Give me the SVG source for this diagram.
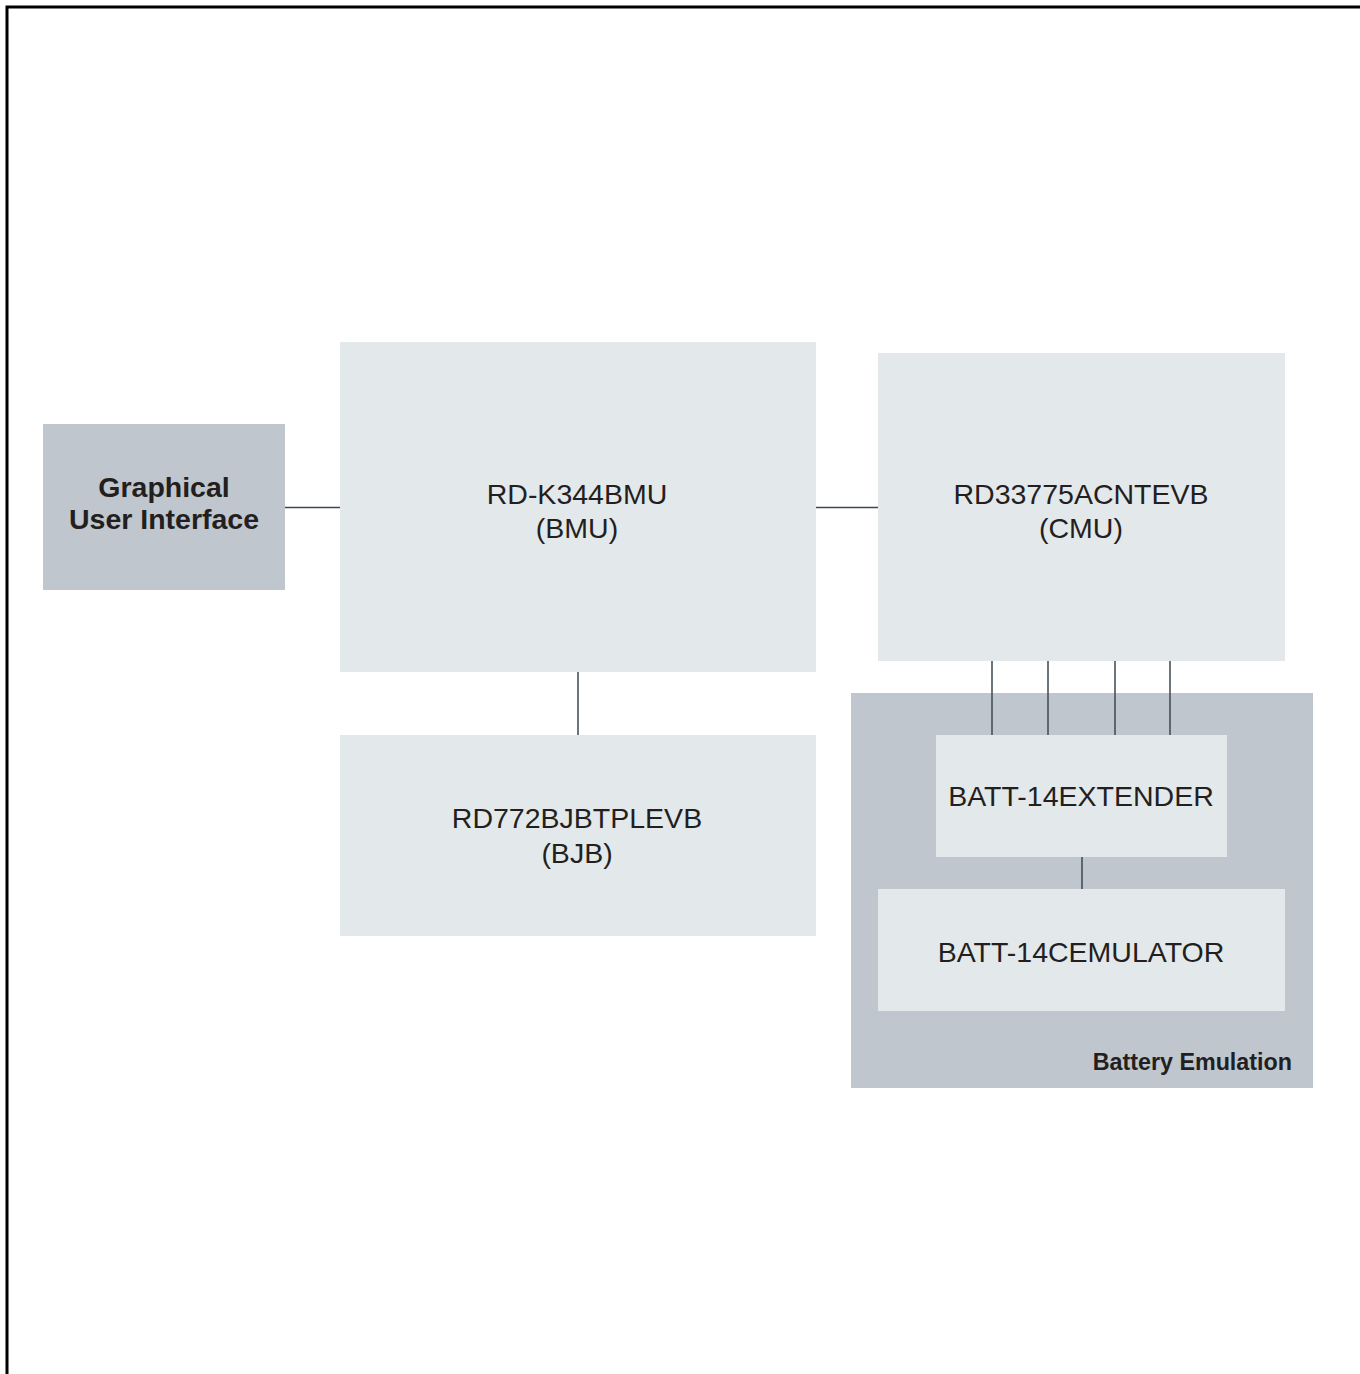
<svg xmlns="http://www.w3.org/2000/svg" width="1360" height="1374" viewBox="0 0 1360 1374">
<style>
.light{fill:#e3e8eb}
.dark{fill:#bfc6cd}
.t{font-family:"Liberation Sans",Arial,sans-serif;font-size:28.5px;fill:#231f20;text-anchor:middle}
.b{font-family:"Liberation Sans",Arial,sans-serif;font-weight:bold;font-size:28.5px;fill:#231f20;text-anchor:middle}
.c line{stroke:#3d4750;stroke-width:1.5}
</style>
<rect width="1360" height="1374" fill="#fff"/>
<polyline points="7,1374 7,7 1360,7" fill="none" stroke="#000" stroke-width="3"/>
<g id="battery-emulation">
<rect class="dark" x="851" y="693" width="462" height="395"/>
<text x="1292" y="1070" style="font-family:'Liberation Sans',Arial,sans-serif;font-weight:bold;font-size:23.3px;fill:#231f20;text-anchor:end">Battery Emulation</text>
</g>
<g class="c" id="connectors">
<line x1="285" y1="507.5" x2="340" y2="507.5"/>
<line x1="816" y1="507.5" x2="878" y2="507.5"/>
<line x1="578" y1="672" x2="578" y2="735"/>
<line x1="992" y1="661" x2="992" y2="735"/>
<line x1="1048" y1="661" x2="1048" y2="735"/>
<line x1="1115" y1="661" x2="1115" y2="735"/>
<line x1="1170" y1="661" x2="1170" y2="735"/>
<line x1="1082" y1="857" x2="1082" y2="889"/>
</g>
<g id="gui">
<rect class="dark" x="43" y="424" width="242" height="166"/>
<text class="b" x="164" y="497">Graphical</text>
<text class="b" x="164" y="529">User Interface</text>
</g>
<g id="bmu">
<rect class="light" x="340" y="342" width="476" height="330"/>
<text class="t" x="577" y="504">RD-K344BMU</text>
<text class="t" x="577" y="538">(BMU)</text>
</g>
<g id="cmu">
<rect class="light" x="878" y="353" width="407" height="308"/>
<text class="t" x="1081" y="504">RD33775ACNTEVB</text>
<text class="t" x="1081" y="538">(CMU)</text>
</g>
<g id="bjb">
<rect class="light" x="340" y="735" width="476" height="201"/>
<text class="t" x="577" y="828">RD772BJBTPLEVB</text>
<text class="t" x="577" y="863">(BJB)</text>
</g>
<g id="extender">
<rect class="light" x="936" y="735" width="291" height="122"/>
<text class="t" x="1081" y="806">BATT-14EXTENDER</text>
</g>
<g id="emulator">
<rect class="light" x="878" y="889" width="407" height="122"/>
<text class="t" x="1081" y="962">BATT-14CEMULATOR</text>
</g>
</svg>
